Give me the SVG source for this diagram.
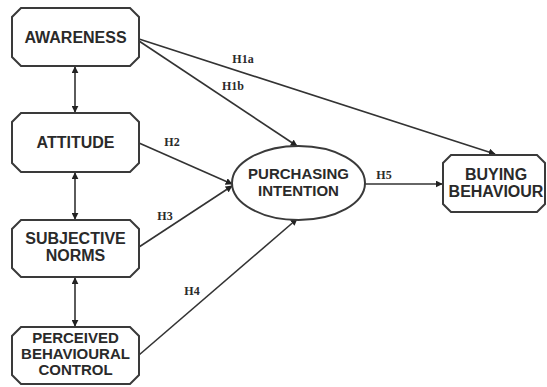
<svg xmlns="http://www.w3.org/2000/svg" width="547" height="387" viewBox="0 0 547 387">
<style>
.box{fill:#fff;stroke:#3a3a3a;stroke-width:2}
.t{font-family:"Liberation Sans",Arial,sans-serif;font-weight:bold;font-size:16px;fill:#2a2a2a;text-anchor:middle}
.s{font-size:15px}
.h{font-family:"Liberation Serif","Times New Roman",serif;font-weight:bold;font-size:12px;fill:#2a2a2a;text-anchor:middle}
.c{stroke:#333;stroke-width:1.6;fill:none}
</style>
<defs>
<marker id="ah" viewBox="0 0 10 10" refX="9" refY="5" markerWidth="7" markerHeight="7" markerUnits="userSpaceOnUse" orient="auto-start-reverse">
<path d="M0,0 L10,5 L0,10 z" fill="#222"/>
</marker>
</defs>
<rect width="547" height="387" fill="#fff"/>
<g id="connectors">
<line class="c" x1="75" y1="67" x2="75" y2="112" marker-start="url(#ah)" marker-end="url(#ah)"/>
<line class="c" x1="75" y1="173" x2="75" y2="219" marker-start="url(#ah)" marker-end="url(#ah)"/>
<line class="c" x1="75" y1="278" x2="75" y2="326" marker-start="url(#ah)" marker-end="url(#ah)"/>
<line class="c" x1="139" y1="39" x2="495" y2="154" marker-end="url(#ah)"/>
<line class="c" x1="139" y1="41" x2="297" y2="146" marker-end="url(#ah)"/>
<line class="c" x1="139" y1="143" x2="232" y2="184" marker-end="url(#ah)"/>
<line class="c" x1="139" y1="247" x2="232" y2="186" marker-end="url(#ah)"/>
<line class="c" x1="139" y1="355" x2="297" y2="219" marker-end="url(#ah)"/>
<line class="c" x1="365" y1="184" x2="442" y2="184" marker-end="url(#ah)"/>
<text class="h" x="243" y="63">H1a</text>
<text class="h" x="233" y="90">H1b</text>
<text class="h" x="172" y="146">H2</text>
<text class="h" x="165" y="220">H3</text>
<text class="h" x="192" y="295">H4</text>
<text class="h" x="384" y="179">H5</text>
</g>
<g id="awareness">
<polygon class="box" points="21,8 130,8 139,17 139,57 130,66 21,66 12,57 12,17"/>
<text class="t" x="75.5" y="43">AWARENESS</text>
</g>
<g id="attitude">
<polygon class="box" points="21,113 130,113 139,122 139,163 130,172 21,172 12,163 12,122"/>
<text class="t" x="75.5" y="148">ATTITUDE</text>
</g>
<g id="subjective-norms">
<polygon class="box" points="21,220 130,220 139,229 139,268 130,277 21,277 12,268 12,229"/>
<text class="t" x="75.5" y="244">SUBJECTIVE</text>
<text class="t" x="75.5" y="261">NORMS</text>
</g>
<g id="perceived-behavioural-control">
<polygon class="box" points="21,327 130,327 139,336 139,375 130,384 21,384 12,375 12,336"/>
<text class="t s" x="75.5" y="343">PERCEIVED</text>
<text class="t s" x="75.5" y="359">BEHAVIOURAL</text>
<text class="t s" x="75.5" y="375">CONTROL</text>
</g>
<g id="purchasing-intention">
<ellipse class="box" cx="298.5" cy="183" rx="66.5" ry="37"/>
<text class="t s" x="298.5" y="179">PURCHASING</text>
<text class="t s" x="298.5" y="196">INTENTION</text>
</g>
<g id="buying-behaviour">
<polygon class="box" points="451,155 537,155 545,163 545,204 537,212 451,212 443,204 443,163"/>
<text class="t" x="496" y="180">BUYING</text>
<text class="t" x="496" y="197">BEHAVIOUR</text>
</g>
</svg>
